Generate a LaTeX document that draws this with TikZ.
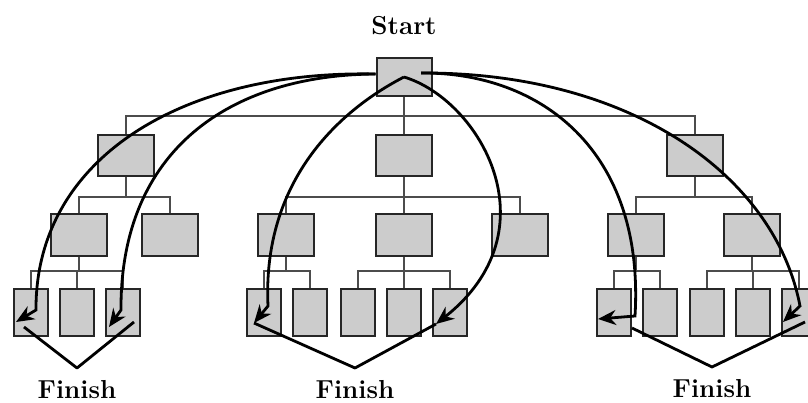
\documentclass[tikz,border=0pt]{standalone}
\usepackage{tikz}
\usetikzlibrary{positioning,arrows.meta,calc}
\definecolor{boxgray}{gray}{0.8}
\definecolor{linegray}{gray}{0.3}
\tikzset{
  box/.style={draw=black!85,line width=2pt,fill=boxgray,inner sep=0pt},
  topbox/.style={box,minimum width=55pt,minimum height=38pt},
  midbox/.style={box,minimum width=56pt,minimum height=41pt},
  lowbox/.style={box,minimum width=56pt,minimum height=42pt},
  leaf/.style={box,minimum width=34pt,minimum height=47pt},
  >={Stealth[length=18pt,width=15pt]},
}

\begin{document}
\begin{tikzpicture}[
  x=1pt,y=-1pt,
  tree/.style={draw=linegray,line width=1.4pt},
  walk/.style={->,line width=2.8pt},
  arm/.style={line width=2.8pt,line join=round},
  word/.style={font=\fontsize{26}{31}\selectfont\bfseries,inner sep=0pt}
]
\useasboundingbox (0,0) rectangle (808,403);

\node[topbox] (root) at (404,77) {};
\node[word,above=22pt of root] (start) {Start};

\node[midbox] (l) at (126,156) {};
\node[midbox] (m) at (404,156) {};
\node[midbox] (r) at (695,156) {};

\node[lowbox] (la) at (79,235) {};
\node[lowbox] (lb) at (170,235) {};
\node[lowbox] (ma) at (286,235) {};
\node[lowbox] (mb) at (404,235) {};
\node[lowbox] (mc) at (520,235) {};
\node[lowbox] (ra) at (636,235) {};
\node[lowbox] (rb) at (752,235) {};

\node[leaf] (la1) at (31,312) {};
\node[leaf,right=10pt of la1] (la2) {};
\node[leaf,right=10pt of la2] (la3) {};
\node[leaf] (ma1) at (264,312) {};
\node[leaf,right=10pt of ma1] (ma2) {};
\node[leaf] (mb1) at (358,312) {};
\node[leaf,right=10pt of mb1] (mb2) {};
\node[leaf,right=10pt of mb2] (mb3) {};
\node[leaf] (ra1) at (614,312) {};
\node[leaf,right=10pt of ra1] (ra2) {};
\node[leaf] (rb1) at (707,312) {};
\node[leaf,right=10pt of rb1] (rb2) {};
\node[leaf,right=10pt of rb2] (rb3) {};

\foreach \c in {l,m,r} \draw[tree] (root.south) -- ++(0,19) -| (\c.north);
\foreach \c in {la,lb} \draw[tree] (l.south) -- ++(0,19.5) -| (\c.north);
\foreach \c in {ma,mb,mc} \draw[tree] (m.south) -- ++(0,19.5) -| (\c.north);
\foreach \c in {ra,rb} \draw[tree] (r.south) -- ++(0,19.5) -| (\c.north);
\foreach \c in {la1,la2,la3} \draw[tree] (la.south) -- ++(0,14) -| (\c.north);
\foreach \c in {ma1,ma2} \draw[tree] (ma.south) -- ++(0,14) -| (\c.north);
\foreach \c in {mb1,mb2,mb3} \draw[tree] (mb.south) -- ++(0,14) -| (\c.north);
\foreach \c in {ra1,ra2} \draw[tree] (ra.south) -- ++(0,14) -| (\c.north);
\foreach \c in {rb1,rb2,rb3} \draw[tree] (rb.south) -- ++(0,14) -| (\c.north);

\coordinate (sl) at ([yshift=3pt]root.west);
\coordinate (sr) at ([xshift=17pt,yshift=4pt]root.center);

\coordinate (t1) at ([xshift=-15pt,yshift=-10pt]la1.center);
\coordinate (t2) at ([xshift=-14pt,yshift=-15pt]la3.center);
\coordinate (t3) at ([xshift=-10pt,yshift=-11pt]ma1.center);
\coordinate (t4) at ([xshift=-14pt,yshift=-12pt]mb3.center);
\coordinate (t5) at ([xshift=-16pt,yshift=-7pt]ra1.center);
\coordinate (t6) at ([xshift=-16pt,yshift=-10pt]rb3.center);

\coordinate (v1) at (77,368);
\coordinate (v2) at (355,368);
\coordinate (v3) at (712,367);

\node[word,below=12pt of v1] (fin1) {Finish};
\node[word,below=12pt of v2] (fin2) {Finish};
\node[word,below=12pt of v3] (fin3) {Finish};

\draw[walk] (sl) .. controls (180,70) and (35,160) .. (36,310) -- (t1);
\draw[walk] (sl) .. controls (230,75) and (120,150) .. (121,310) -- (t2);
\draw[walk] (root.center) .. controls (340,110) and (262,180) .. (268,306) -- (t3);
\draw[walk] (root.center) .. controls (480,100) and (555,230) .. (t4);
\draw[walk] (sr) .. controls (540,72) and (645,150) .. (635,316) -- (t5);
\draw[walk] (sr) .. controls (630,72) and (775,175) .. (800,306) -- (t6);

\draw[arm] ([xshift=8pt,yshift=-5pt]t1) -- (v1) -- ([xshift=25pt,yshift=5pt]t2);
\draw[arm] (t3) -- (v2) -- (t4);
\draw[arm] ([xshift=34pt,yshift=-9pt]t5) -- (v3) -- ([xshift=22pt]t6);
\end{tikzpicture}
\end{document}
